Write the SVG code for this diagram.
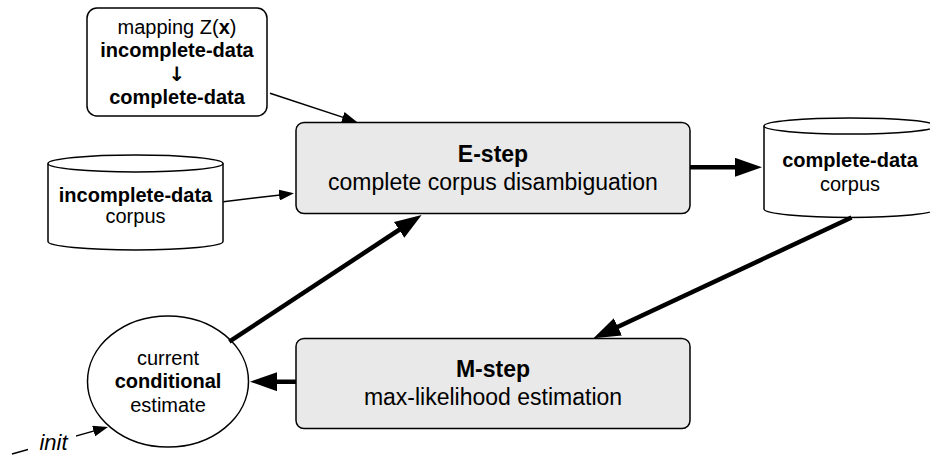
<svg xmlns="http://www.w3.org/2000/svg" width="930" height="455" viewBox="0 0 930 455">
  <style>
    text { font-family: "Liberation Sans", Arial, Helvetica, sans-serif; fill: #000; text-anchor: middle; }
    .t20 { font-size: 20px; }
    .t23 { font-size: 23px; }
    .b { font-weight: bold; }
    .it { font-style: italic; font-size: 22px; }
    .glyph { font-family: "DejaVu Sans", sans-serif; font-size: 20px; font-weight: bold; }
    .shape { fill: #fff; stroke: #000; stroke-width: 1.5; }
    .step { fill: #e9e9e9; stroke: #000; stroke-width: 1.5; }
    .thin { fill: none; stroke: #000; stroke-width: 1.5; marker-end: url(#arrowThin); }
    .thick { fill: none; stroke: #000; stroke-width: 4.5; marker-end: url(#arrowThick); }
  </style>
  <defs>
    <marker id="arrowThin" viewBox="0 0 15 11" refX="10" refY="5.5" markerWidth="15" markerHeight="11" markerUnits="userSpaceOnUse" orient="auto">
      <path d="M0,0 L15,5.5 L0,11 z" fill="#000"/>
    </marker>
    <marker id="arrowThick" viewBox="0 0 27 19" refX="17" refY="9.5" markerWidth="27" markerHeight="19" markerUnits="userSpaceOnUse" orient="auto">
      <path d="M0,0 L27,9.5 L0,19 z" fill="#000"/>
    </marker>
  </defs>

  <rect width="930" height="455" fill="#fff"/>

  <!-- mapping box -->
  <g id="mapping">
    <rect class="shape" x="87" y="8" width="180" height="108" rx="10"/>
    <text class="t20" x="177" y="34">mapping Z(<tspan class="b">x</tspan>)</text>
    <text class="t20 b" x="177" y="57">incomplete-data</text>
    <text class="glyph" x="177" y="81">↓</text>
    <text class="t20 b" x="177" y="104">complete-data</text>
  </g>

  <!-- incomplete-data corpus (cylinder) -->
  <g id="incomplete-corpus">
    <path class="shape" d="M48,163.5 L48,241.5 A87.5,8.5 0 0 0 223,241.5 L223,163.5"/>
    <ellipse class="shape" cx="135.5" cy="163.5" rx="87.5" ry="8.5"/>
    <text class="t20 b" x="135.5" y="202">incomplete-data</text>
    <text class="t20" x="135.5" y="223">corpus</text>
  </g>

  <!-- E-step -->
  <g id="e-step">
    <rect class="step" x="296" y="122.5" width="394" height="91" rx="8"/>
    <text class="t23 b" x="493" y="162">E-step</text>
    <text class="t23" x="493" y="190">complete corpus disambiguation</text>
  </g>

  <!-- complete-data corpus (cylinder) -->
  <g id="complete-corpus">
    <path class="shape" d="M764,126 L764,209 A86,8.5 0 0 0 936,209 L936,126"/>
    <ellipse class="shape" cx="850" cy="126" rx="86" ry="8"/>
    <text class="t20 b" x="850" y="167">complete-data</text>
    <text class="t20" x="850" y="191">corpus</text>
  </g>

  <!-- M-step -->
  <g id="m-step">
    <rect class="step" x="296" y="338.5" width="394" height="90" rx="8"/>
    <text class="t23 b" x="493" y="377">M-step</text>
    <text class="t23" x="493" y="405">max-likelihood estimation</text>
  </g>

  <!-- current conditional estimate -->
  <g id="estimate">
    <ellipse class="shape" cx="168" cy="381.5" rx="80.5" ry="65.5"/>
    <text class="t20" x="168" y="365">current</text>
    <text class="t20 b" x="168" y="388">conditional</text>
    <text class="t20" x="168" y="412">estimate</text>
  </g>

  <!-- connectors -->
  <g id="connectors">
    <path class="thin" d="M270,93.3 L352.3,120.4"/>
    <path class="thin" d="M223.3,201.7 L289,193.9"/>
    <path class="thick" d="M690,167.3 L752,167.3"/>
    <path class="thick" d="M851.5,217.5 L602.5,334"/>
    <path class="thick" d="M229.3,341.7 L413.3,220.5"/>
    <path class="thick" d="M296,381.7 L260,381.7"/>
    <path class="thin" d="M12,454 L103.2,428.4"/>
    <rect x="28" y="430" width="48" height="25" fill="#fff"/>
    <text class="it" x="53.5" y="450">init</text>
  </g>
</svg>
